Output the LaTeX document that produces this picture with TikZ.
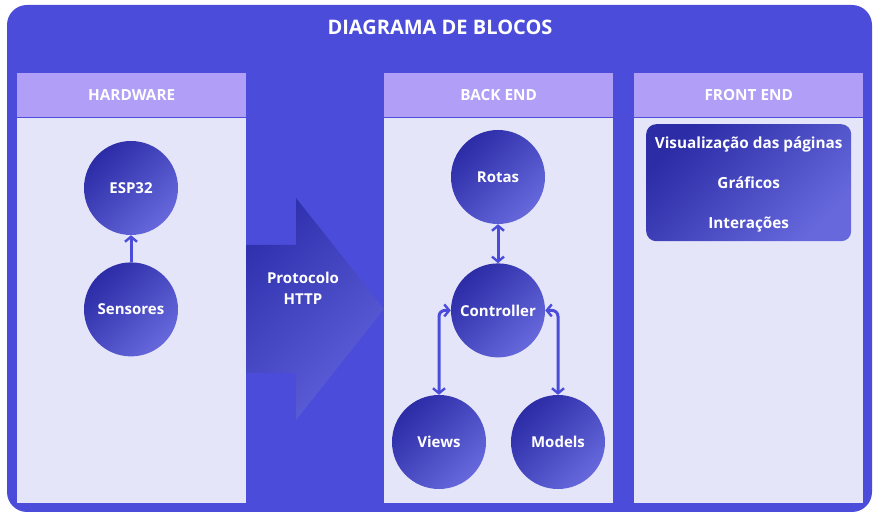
\documentclass[tikz,border=0pt]{standalone}
\usepackage{fontspec}
\setsansfont{Open Sans}
\usetikzlibrary{positioning,arrows.meta}

\definecolor{frameblue}{HTML}{4B4DDA}
\definecolor{headlav}{HTML}{B19EF6}
\definecolor{bodylav}{HTML}{E5E5F9}
\definecolor{circdark}{HTML}{2B2CA6}
\definecolor{circlight}{HTML}{6668DC}

\begin{document}
\begin{tikzpicture}[
    x=1pt, y=-1pt,
    >={Straight Barb[length=5pt,width=12pt,line width=2.4pt]},
    node distance=27pt,
    block/.style={circle, minimum size=94pt, inner sep=0pt, text=white,
        top color=circdark, bottom color=circlight, shading angle=45,
        font=\sffamily\bfseries\fontsize{15}{17}\selectfont},
    header/.style={fill=headlav, text=white, minimum width=229pt, minimum height=44pt,
        inner sep=0pt, anchor=north west, font=\sffamily\bfseries\fontsize{15.3}{17}\selectfont},
    panel/.style={fill=bodylav, minimum width=229pt, minimum height=385pt, inner sep=0pt},
    link/.style={draw=frameblue, line width=3pt}
]

\useasboundingbox (0,0) rectangle (879,518);
\fill[frameblue, rounded corners=20pt] (7,5) rectangle (872,512);
\node[text=white, font=\sffamily\bfseries\fontsize{20}{24}\selectfont] (title) at (440,27) {DIAGRAMA DE BLOCOS};

% colunas
\node[header] (hwhead) at (17,73) {HARDWARE};
\node[panel, below=0pt of hwhead] (hwbody) {};
\node[header] (behead) at (384,73) {BACK END};
\node[panel, below=0pt of behead] (bebody) {};
\node[header] (fehead) at (634,73) {FRONT END};
\node[panel, below=0pt of fehead] (febody) {};

% hardware
\node[block] (esp) at (131,188) {ESP32};
\node[block, below=of esp] (sens) {Sensores};
\draw[link, ->] (sens) -- (esp);

% protocolo
\shade[top color=circdark!85!frameblue, bottom color=circlight!75!frameblue, shading angle=45]
    (246,245) -- (296,245) -- (296,198) -- (384,309) -- (296,420) -- (296,373) -- (246,373) -- cycle;
\node[text=white, align=center, font=\sffamily\bfseries\fontsize{15}{21}\selectfont] (http) at (303,288) {Protocolo\\HTTP};

% back end
\node[block] (rotas) at (498,177) {Rotas};
\node[block, below=39pt of rotas] (ctrl) {Controller};
\node[block] (views) at (439,442) {Views};
\node[block] (models) at (558,442) {Models};
\draw[link, <->] (rotas) -- (ctrl);
\draw[link, <->, rounded corners=6pt] (ctrl.west) -| (views.north);
\draw[link, <->, rounded corners=6pt] (ctrl.east) -| (models.north);

% front end
\node[rounded corners=10pt, minimum width=205pt, minimum height=117pt, inner sep=0pt,
    anchor=north west, top color=circdark, bottom color=circlight, shading angle=45]
    (pages) at (646,124) {};
\node[text=white, align=center, font=\sffamily\bfseries\fontsize{15.3}{40}\selectfont]
    (pagetxt) at ([yshift=-2pt]pages.center) {Visualização das páginas\\Gráficos\\Interações};

\end{tikzpicture}
\end{document}
